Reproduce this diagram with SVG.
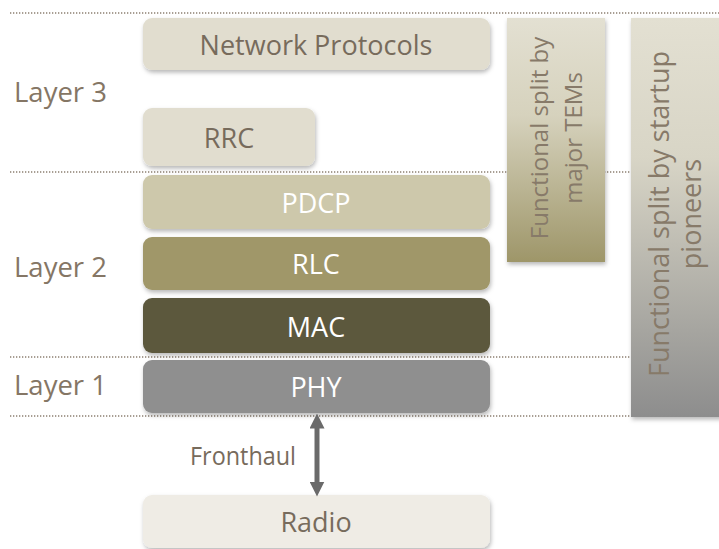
<svg xmlns="http://www.w3.org/2000/svg" width="719" height="549" viewBox="0 0 719 549">
  <defs>
    <filter id="shadow" x="-10%" y="-20%" width="120%" height="150%">
      <feDropShadow dx="1" dy="2.5" stdDeviation="2.2" flood-color="#000" flood-opacity="0.28"/>
    </filter>
    <linearGradient id="gradTems" x1="0" y1="0" x2="0" y2="1">
      <stop offset="0" stop-color="#e3e0d2"/>
      <stop offset="0.4" stop-color="#d6d2bd"/>
      <stop offset="1" stop-color="#9e9669"/>
    </linearGradient>
    <linearGradient id="gradStartup" x1="0" y1="0" x2="0" y2="1">
      <stop offset="0" stop-color="#e3e0d2"/>
      <stop offset="0.35" stop-color="#d8d5c6"/>
      <stop offset="1" stop-color="#8d8d8d"/>
    </linearGradient>
    <marker id="arrowHead" viewBox="0 0 10 10" refX="5" refY="5" markerWidth="3" markerHeight="3" orient="auto-start-reverse" markerUnits="strokeWidth">
      <path d="M0,0 L10,5 L0,10 z" fill="#6a6a6a"/>
    </marker>
  </defs>
  <style>
    .sep { stroke: #8c7f70; stroke-width: 1.4; stroke-dasharray: 1.3 1.7; fill: none; }
    .box { filter: url(#shadow); }
    .layer { font-family: "Open Sans", "Noto Sans", sans-serif; font-size: 27.5px; fill: #857665; }
    .lbl { font-family: "Open Sans", "Noto Sans", sans-serif; font-size: 27px; text-anchor: middle; }
    .dark { fill: #776b5c; }
    .light { fill: #ffffff; }
    .vert { font-family: "Open Sans", "Noto Sans", sans-serif; text-anchor: middle; fill: #877a69; }
    .conn { stroke: #6a6a6a; stroke-width: 5; fill: none; }
  </style>

  <!-- layer separators -->
  <g id="separators">
    <line class="sep" x1="10" y1="13" x2="719" y2="13"/>
    <line class="sep" x1="10" y1="172" x2="719" y2="172"/>
    <line class="sep" x1="10" y1="357" x2="719" y2="357"/>
    <line class="sep" x1="10" y1="416" x2="719" y2="416"/>
  </g>

  <!-- layer captions -->
  <g id="layer-labels">
    <text class="layer" x="14" y="102">Layer 3</text>
    <text class="layer" x="14" y="277">Layer 2</text>
    <text class="layer" x="14" y="395">Layer 1</text>
  </g>

  <g id="network-protocols">
    <rect class="box" x="143" y="18" width="347" height="52" rx="9" fill="#e1ddcf"/>
    <text class="lbl dark" x="316" y="55">Network Protocols</text>
  </g>

  <g id="rrc">
    <rect class="box" x="143" y="108" width="172" height="58" rx="9" fill="#e1ddcf"/>
    <text class="lbl dark" x="229" y="148">RRC</text>
  </g>

  <g id="pdcp">
    <rect class="box" x="143" y="175" width="347" height="54" rx="9" fill="#cdc8ab"/>
    <text class="lbl light" x="316" y="213">PDCP</text>
  </g>

  <g id="rlc">
    <rect class="box" x="143" y="237" width="347" height="53" rx="9" fill="#a09769"/>
    <text class="lbl light" x="316" y="274">RLC</text>
  </g>

  <g id="mac">
    <rect class="box" x="143" y="298" width="347" height="55" rx="9" fill="#5c583e"/>
    <text class="lbl light" x="316" y="337">MAC</text>
  </g>

  <g id="phy">
    <rect class="box" x="143" y="360" width="347" height="53" rx="9" fill="#8f8f8f"/>
    <text class="lbl light" x="316" y="397">PHY</text>
  </g>

  <g id="radio">
    <rect class="box" x="143" y="495" width="347" height="53" rx="9" fill="#efece5"/>
    <text class="lbl dark" x="316" y="532">Radio</text>
  </g>

  <g id="split-tems">
    <rect class="box" x="507" y="18" width="98" height="244" fill="url(#gradTems)"/>
    <g transform="translate(556,138) rotate(-90)">
      <text class="vert" x="0" y="-8" font-size="24">Functional split by</text>
      <text class="vert" x="0" y="26" font-size="24">major TEMs</text>
    </g>
  </g>

  <g id="split-startup">
    <rect class="box" x="631" y="18" width="92" height="399" fill="url(#gradStartup)"/>
    <g transform="translate(684,214) rotate(-90)">
      <text class="vert" x="0" y="-15" font-size="27">Functional split by startup</text>
      <text class="vert" x="0" y="17" font-size="27">pioneers</text>
    </g>
  </g>

  <!-- fronthaul link between PHY and radio -->
  <g id="connectors">
    <line class="conn" x1="317" y1="421" x2="317" y2="489" marker-start="url(#arrowHead)" marker-end="url(#arrowHead)"/>
    <text class="dark" x="190" y="465" font-family="Open Sans, Noto Sans, sans-serif" font-size="25" textLength="106" lengthAdjust="spacingAndGlyphs">Fronthaul</text>
  </g>
</svg>
